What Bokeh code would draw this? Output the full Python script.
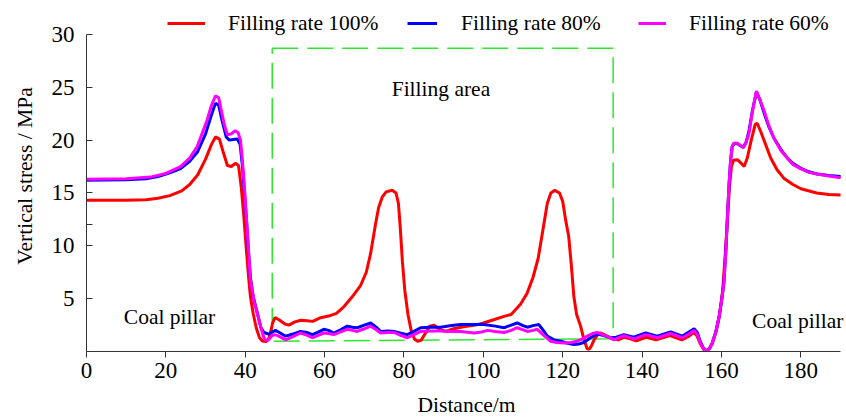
from bokeh.plotting import figure
from bokeh.models import FixedTicker, Legend, LegendItem, Label, Range1d
from bokeh.embed import file_html
from bokeh.resources import INLINE

# ---------------- data ----------------
x_ticks = [0, 20, 40, 60, 80, 100, 120, 140, 160, 180]
y_ticks = [0, 5, 10, 12, 15, 20, 25, 30]

series_labels = ["Filling rate 100%", "Filling rate 80%", "Filling rate 60%"]

red_x = [0, 10, 15, 18, 21, 24, 26, 28, 30, 31.5, 32.5, 33.5, 34.5, 35.5, 36.5, 37.5, 38.3, 39.0, 39.6, 40.2,
         40.8, 41.3, 42.0, 42.8, 43.6, 44.3, 45.2, 45.8, 46.3, 46.9, 47.5, 48.5, 50, 51, 52.5, 54, 55.5, 57,
         59, 61, 63, 65, 67, 69, 70.5, 71.6, 72.8, 73.6, 74.5, 75.5, 77, 78, 78.6, 79.1, 79.6, 80.2, 81,
         81.8, 82.6, 83.4, 84.3, 85.2, 86.5, 87.5, 89, 90.5, 92.5, 95, 98, 100, 102.6, 105, 107, 109.4, 111,
         112.5, 113.8, 115, 116.1, 117, 118, 119.2, 120, 120.7, 121.5, 122.2, 122.8, 123.5, 124.5, 125.3,
         126.1, 126.7, 127.3, 127.9, 128.8, 129.5, 130.5, 131.5, 132.5, 134, 135.5, 137, 138.5, 141, 143.5,
         147, 150, 152, 153, 153.8, 154.7, 155.5, 156.2, 157, 157.7, 158.7, 159.5, 160.3, 161, 161.5, 162,
         162.5, 163, 164, 165, 165.7, 166.5, 167.5, 168.5, 169, 170, 171, 172.4, 174, 175.7, 178, 180, 184,
         187, 190]
red_y = [14.3, 14.3, 14.35, 14.5, 14.75, 15.2, 15.8, 16.7, 18.2, 19.6, 20.3, 20.1, 18.8, 17.6, 17.5, 17.8, 17.6,
         15.5, 13.0, 10.0, 7.2, 5.2, 3.6, 2.2, 1.3, 1.0, 0.95, 1.1, 1.7, 2.7, 3.2, 3.0, 2.6, 2.5, 2.8, 2.95,
         2.9, 2.85, 3.2, 3.35, 3.6, 4.3, 5.2, 6.2, 7.5, 9.3, 12.0, 13.6, 14.6, 15.1, 15.25, 15.0, 14.0, 11.5,
         8.5, 5.8, 3.5, 2.0, 1.2, 0.97, 1.05, 1.6, 2.4, 2.5, 2.1, 1.9, 2.15, 2.35, 2.5, 2.7, 3.0, 3.3, 3.5,
         4.5, 5.5, 7.0, 8.8, 11.5, 14.0, 15.0, 15.25, 15.0, 14.2, 12.5, 10.9, 8.0, 5.2, 3.5, 2.4, 1.2, 0.3,
         0.2, 0.6, 1.1, 1.6, 1.75, 1.6, 1.4, 1.2, 1.1, 1.35, 1.2, 1.0, 1.35, 1.1, 1.5, 1.1, 1.5, 1.8, 1.5,
         0.7, 0.2, 0.05, 0.3, 0.8, 2.0, 3.4, 5.8, 9.5, 12.5, 15.5, 17.5, 18.1, 18.15, 17.8, 17.5, 18.3, 20.0,
         21.5, 21.6, 20.7, 19.7, 18.3, 17.2, 16.4, 15.8, 15.4, 15.0, 14.85, 14.8]

blue_x = [0, 10, 15, 18, 21, 23.7, 26, 28, 30, 31.5, 32.5, 33.3, 34.2, 35.2, 36, 37, 38, 38.7, 39.3, 39.8, 40.3,
          40.8, 41.3, 42, 43, 43.9, 44.7, 45.9, 46.6, 47.6, 48.6, 50.2, 52, 53.9, 55.5, 56.9, 58.5, 59.8, 61,
          62.3, 64, 65.7, 67, 68.2, 70, 71.6, 73, 74.1, 76, 77.5, 79, 80.8, 82.5, 84.2, 86.5, 89.2, 92, 94.3,
          97, 100.1, 103, 105.2, 107, 108.5, 110, 111.1, 112.5, 114, 115.1, 116.1, 117.8, 119.5, 121, 122.8,
          124, 125.3, 127, 128.7, 130.3, 132, 133.5, 135.4, 137.9, 140.9, 143.8, 147.2, 150.1, 152, 153.1,
          153.9, 154.7, 155.5, 156.2, 157, 157.7, 158.6, 159.4, 160.1, 160.6, 161.1, 161.5, 161.9, 162.3,
          162.7, 163.3, 164, 165.5, 166.2, 166.9, 167.8, 168.8, 169.7, 170.7, 172, 173.2, 175, 176.6, 178,
          179.9, 182, 184.1, 187, 190]
blue_y = [16.2, 16.25, 16.35, 16.55, 16.9, 17.3, 18.0, 18.9, 20.6, 22.4, 23.5, 23.3, 21.8, 20.3, 20.0, 20.05,
          20.1, 19.6, 17.5, 15.0, 12.5, 9.5, 7.0, 5.2, 3.7, 2.3, 1.8, 1.65, 1.8, 2.0, 1.8, 1.45, 1.65, 1.9,
          1.8, 1.6, 1.85, 2.1, 2.0, 1.75, 2.05, 2.4, 2.3, 2.25, 2.5, 2.7, 2.3, 1.9, 1.95, 1.9, 1.75, 1.6, 1.9,
          2.25, 2.3, 2.3, 2.45, 2.55, 2.55, 2.55, 2.4, 2.25, 2.5, 2.7, 2.45, 2.3, 2.45, 2.55, 2.0, 1.45, 1.1,
          0.97, 0.8, 0.66, 0.7, 0.85, 1.3, 1.65, 1.5, 1.3, 1.35, 1.6, 1.35, 1.75, 1.45, 1.85, 1.45, 1.9, 2.15,
          1.8, 0.9, 0.3, 0.05, 0.3, 0.8, 1.9, 3.3, 5.0, 6.5, 9.5, 12.8, 15.8, 18.1, 19.4, 19.7, 19.65, 19.3,
          19.8, 20.8, 22.8, 24.55, 23.8, 22.6, 21.2, 20.2, 19.1, 18.3, 17.8, 17.35, 17.0, 16.8, 16.65, 16.55]

mag_x = [0, 10, 16.1, 20, 23.7, 26, 27.9, 29.5, 30.4, 31.5, 32.5, 33.3, 33.8, 34.7, 35.5, 36.5, 37.5, 38.2, 38.8,
         39.3, 39.8, 40.5, 41.3, 42.2, 43.0, 44.0, 44.7, 45.3, 45.9, 46.5, 47.2, 48.2, 50.2, 52, 53.9, 55.5,
         56.9, 58.5, 59.8, 61, 62.3, 64, 65.7, 67, 68.2, 70, 71.6, 73, 74.1, 76, 77.5, 79, 80.8, 82.5, 84.2,
         87, 89.2, 92, 94.3, 97.7, 99.5, 101.1, 103, 105.2, 107, 108.5, 110, 111.1, 112.5, 113.6, 115, 116.9,
         118.5, 120.3, 122, 123.6, 125, 126.2, 127.5, 128.7, 130.3, 132, 132.9, 134, 135.4, 137.9, 140.9,
         143.8, 147.2, 150.1, 152, 153.1, 153.9, 154.7, 155.5, 156.2, 157, 157.7, 158.6, 159.4, 160.1, 160.6,
         161.1, 161.5, 161.9, 162.3, 162.7, 163.1, 164, 165.5, 166.2, 166.9, 167.8, 168.8, 169.7, 170.7, 172,
         173.2, 175, 176.6, 178, 179.9, 182, 184.1, 187, 190]
mag_y = [16.3, 16.35, 16.5, 16.85, 17.5, 18.3, 19.4, 21.0, 21.9, 23.3, 24.2, 24.0, 23.1, 21.5, 20.5, 20.6, 20.9,
         20.7, 20.0, 18.0, 15.5, 11.5, 6.8, 4.8, 3.65, 2.2, 1.3, 1.05, 1.1, 1.4, 1.6, 1.5, 1.1, 1.4, 1.75,
         1.55, 1.3, 1.55, 1.75, 1.7, 1.6, 1.85, 2.1, 2.0, 1.9, 2.15, 2.4, 2.05, 1.75, 1.8, 1.8, 1.55, 1.3, 1.6,
         1.9, 1.95, 1.95, 1.9, 1.9, 1.75, 1.85, 2.0, 1.9, 1.8, 2.0, 2.25, 2.05, 1.9, 2.0, 2.1, 1.6, 0.97,
         0.85, 0.8, 0.85, 0.97, 1.2, 1.45, 1.7, 1.8, 1.55, 1.3, 1.1, 1.3, 1.5, 1.2, 1.6, 1.3, 1.7, 1.3, 1.7,
         2.0, 1.6, 0.8, 0.25, 0.03, 0.3, 0.8, 1.9, 3.3, 5.0, 6.5, 9.5, 12.8, 15.8, 18.1, 19.4, 19.7, 19.7,
         19.3, 19.8, 20.6, 22.7, 24.65, 23.8, 22.8, 21.3, 20.2, 19.0, 18.3, 17.7, 17.3, 16.95, 16.8, 16.6,
         16.45]

# filling area outline (dashed rectangle)
area_x = [46.8, 132.7, 132.7, 46.8, 46.8]
area_y = [28.7, 28.7, 1.2, 0.97, 28.7]

# ---------------- figure ----------------
FONT = "Liberation Serif"

p = figure(width=846, height=419, x_range=Range1d(0, 191.5), y_range=Range1d(0, 33.21),
           output_backend="svg", toolbar_location=None,
           min_border_left=86, min_border_right=0, min_border_top=0, min_border_bottom=67)
p.xgrid.visible = False
p.ygrid.visible = False
p.outline_line_color = None

# axes
p.xaxis.ticker = FixedTicker(ticks=x_ticks)
p.xaxis.bounds = (0, 190)
p.xaxis.major_tick_out = 6
p.xaxis.major_tick_in = 0
p.xaxis.major_label_standoff = 5
p.xaxis.axis_label = "Distance/m"
p.xaxis.axis_label_standoff = 12

p.yaxis.ticker = FixedTicker(ticks=y_ticks)
p.yaxis.bounds = (0, 30)
p.yaxis.major_tick_out = 0
p.yaxis.major_tick_in = 6
p.yaxis.major_label_standoff = 12
p.yaxis.major_label_overrides = {0: "", 12: ""}
p.yaxis.axis_label = "Vertical stress / MPa"
p.yaxis.axis_label_standoff = 12

for ax in (p.xaxis[0], p.yaxis[0]):
    ax.minor_tick_line_color = None
    ax.axis_line_color = "#333333"
    ax.major_tick_line_color = "#333333"
    ax.major_label_text_font = FONT
    ax.major_label_text_font_size = "23px"
    ax.major_label_text_color = "black"
    ax.axis_label_text_font = FONT
    ax.axis_label_text_font_size = "21.5px"
    ax.axis_label_text_font_style = "normal"
    ax.axis_label_text_color = "black"

# filling area
p.line(area_x, area_y, line_color="#2ee82e", line_width=1.5, line_dash="26 9")

# curves
r_red = p.line(red_x, red_y, line_color="#ff0000", line_width=3)
r_blue = p.line(blue_x, blue_y, line_color="#0000ff", line_width=3)
r_mag = p.line(mag_x, mag_y, line_color="#ff00ff", line_width=3)

# legends (one per item, to match spacing)
legend_specs = [(r_red, series_labels[0], 81, 38, 23),
                (r_blue, series_labels[1], 321, 30, 24),
                (r_mag, series_labels[2], 552, 28, 23)]
for rend, lab, vx, gw, st in legend_specs:
    leg = Legend(items=[LegendItem(label=lab, renderers=[rend])], location=(vx, 313),
                 orientation="horizontal", padding=0, margin=0, spacing=0,
                 glyph_width=gw, glyph_height=30, label_height=30, label_standoff=st,
                 label_text_font=FONT, label_text_font_size="21.5px", label_text_color="black",
                 background_fill_alpha=0, border_line_alpha=0)
    p.add_layout(leg, "center")

# text annotations
for tx, ty, tt in [(76.9, 24.85, "Filling area"), (9.4, 3.25, "Coal pillar"), (167.7, 2.85, "Coal pillar")]:
    p.add_layout(Label(x=tx, y=ty, text=tt, text_font=FONT, text_font_size="21.5px",
                       text_color="black", text_baseline="alphabetic", text_align="left"))

open("out.html", "w").write(file_html(p, INLINE))
